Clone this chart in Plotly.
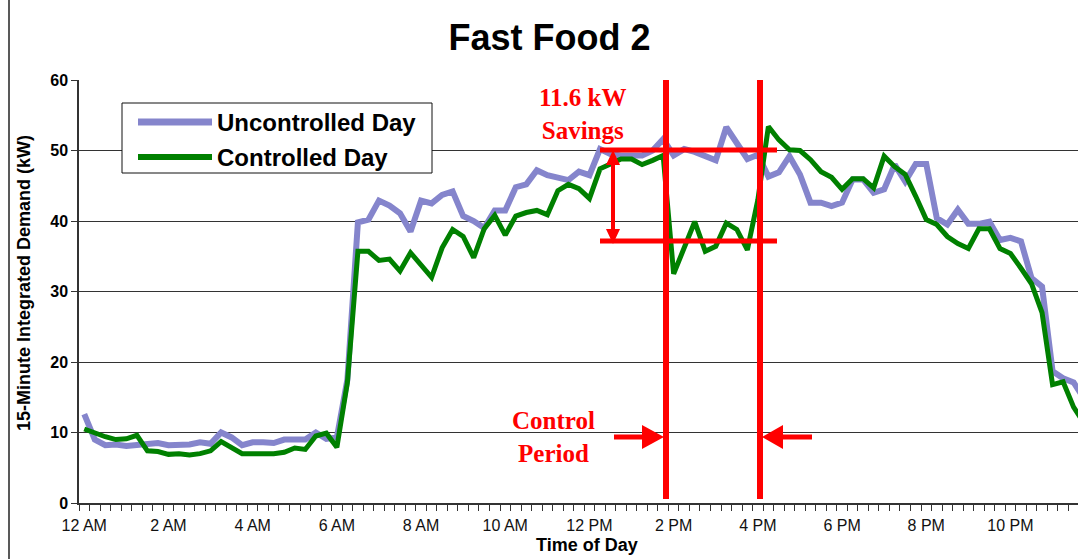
import plotly.graph_objects as go

# ---------------- data ----------------
n_periods = 96                      # 15-minute intervals in one day
hours = [i / 4 for i in range(n_periods)]

uncontrolled = [
    12.6, 9.0, 8.2, 8.3, 8.1, 8.2, 8.5, 8.5, 8.2, 8.2, 8.3, 8.6,
    8.4, 10.0, 9.3, 8.2, 8.6, 8.6, 8.5, 9.0, 9.1, 9.0, 10.0, 9.1,
    9.3, 17.5, 39.8, 40.2, 42.9, 42.2, 41.1, 38.5, 42.9, 42.5, 43.7, 44.2,
    40.7, 40.0, 39.0, 41.5, 41.5, 44.8, 45.2, 47.2, 46.5, 46.2, 45.8, 47.0,
    46.5, 50.2, 49.5, 49.3, 49.3, 49.3, 50.0, 51.6, 49.3, 50.2, 49.8, 49.1,
    48.6, 53.3, 51.0, 48.8, 49.4, 46.3, 46.9, 49.2, 46.6, 42.6, 42.6, 42.1,
    42.6, 45.9, 45.9, 44.0, 44.5, 48.0, 45.6, 48.1, 48.1, 40.4, 39.5, 41.6,
    39.6, 39.6, 39.9, 37.3, 37.6, 37.1, 31.9, 30.7, 18.7, 17.7, 17.1, 14.8,
]

controlled = [
    10.5, 9.9, 9.4, 9.0, 9.1, 9.6, 7.4, 7.3, 6.9, 7.0, 6.8, 7.0,
    7.4, 8.7, 7.9, 7.0, 7.0, 7.0, 7.0, 7.2, 7.8, 7.6, 9.5, 9.9,
    7.9, 17.1, 35.7, 35.7, 34.4, 34.6, 32.9, 35.5, 33.8, 32.0, 36.2, 38.8,
    37.8, 34.8, 38.9, 40.8, 38.0, 40.7, 41.2, 41.5, 40.9, 44.3, 45.2, 44.6,
    43.2, 47.4, 48.1, 48.8, 48.8, 48.0, 48.6, 49.3, 32.5, 36.4, 39.9, 35.7,
    36.4, 39.7, 38.8, 35.9, 43.0, 53.4, 51.5, 50.1, 50.0, 48.7, 47.0, 46.2,
    44.5, 46.0, 46.0, 44.7, 49.2, 47.7, 46.6, 43.5, 40.2, 39.5, 37.8, 36.8,
    36.1, 38.9, 38.9, 36.1, 35.4, 33.3, 31.1, 27.0, 16.8, 17.2, 13.6, 11.3,
]

tick_hours = [0, 2, 4, 6, 8, 10, 12, 14, 16, 18, 20, 22]
tick_labels = ["12 AM", "2 AM", "4 AM", "6 AM", "8 AM", "10 AM",
               "12 PM", "2 PM", "4 PM", "6 PM", "8 PM", "10 PM"]

series_names = ["Uncontrolled Day", "Controlled Day"]
savings_text = "11.6 kW<br>Savings"
control_text = "Control<br>Period"

# ---------------- layout geometry ----------------
W, H = 1078, 559
PL, PR, PT, PB = 79, 1078, 80, 503          # plot area in pixels
X0 = -0.125                                  # half category before 12 AM
PX_PER_HOUR = 42.1
X1 = X0 + (PR - PL) / PX_PER_HOUR
Y0, Y1 = 0, 60


def hx(px):   # pixel -> hour
    return X0 + (px - PL) / PX_PER_HOUR


def ky(py):   # pixel -> kW
    return Y0 + (PB - py) * (Y1 - Y0) / (PB - PT)


def ppx(px):  # pixel -> paper x
    return (px - PL) / (PR - PL)


def ppy(py):  # pixel -> paper y
    return (PB - py) / (PB - PT)


LAV = "#8585CC"
GRN = "#008000"
RED = "#FF0000"
SANS = "Arial, Liberation Sans, sans-serif"
SERIF = "Times New Roman, Liberation Serif, serif"

fig = go.Figure()
fig.add_trace(go.Scatter(x=hours, y=uncontrolled, mode="lines", name=series_names[0],
                         line=dict(color=LAV, width=6), showlegend=False))
fig.add_trace(go.Scatter(x=hours, y=controlled, mode="lines", name=series_names[1],
                         line=dict(color=GRN, width=5), showlegend=False))

shapes = []
# chart frame (left edge)
shapes.append(dict(type="line", xref="paper", yref="paper",
                   x0=ppx(9), x1=ppx(9), y0=ppy(0), y1=ppy(H),
                   line=dict(color="#222", width=1.5)))

# legend box
shapes.append(dict(type="rect", xref="paper", yref="paper",
                   x0=ppx(122), x1=ppx(432), y0=ppy(103), y1=ppy(173),
                   fillcolor="white", line=dict(color="#111", width=1)))
shapes.append(dict(type="line", xref="paper", yref="paper",
                   x0=ppx(138), x1=ppx(212), y0=ppy(122), y1=ppy(122),
                   line=dict(color=LAV, width=7)))
shapes.append(dict(type="line", xref="paper", yref="paper",
                   x0=ppx(138), x1=ppx(212), y0=ppy(157), y1=ppy(157),
                   line=dict(color=GRN, width=6)))

# control period vertical lines
for px in (666, 760):
    shapes.append(dict(type="line", x0=hx(px), x1=hx(px), y0=ky(80), y1=ky(499),
                       line=dict(color=RED, width=6)))
# savings horizontal lines
for py in (150, 241):
    shapes.append(dict(type="line", x0=hx(600), x1=hx(777), y0=ky(py), y1=ky(py),
                       line=dict(color=RED, width=5)))
# savings double arrow
shapes.append(dict(type="line", x0=hx(613), x1=hx(613), y0=ky(160), y1=ky(233),
                   line=dict(color=RED, width=4)))


def tri(p1, p2, p3):
    return "M {} {} L {} {} L {} {} Z".format(hx(p1[0]), ky(p1[1]), hx(p2[0]), ky(p2[1]),
                                            hx(p3[0]), ky(p3[1]))


shapes.append(dict(type="path", path=tri((613, 150), (606, 165), (620, 165)),
                   fillcolor=RED, line=dict(color=RED, width=0)))
shapes.append(dict(type="path", path=tri((613, 244), (606, 229), (620, 229)),
                   fillcolor=RED, line=dict(color=RED, width=0)))
# control period arrows
shapes.append(dict(type="line", x0=hx(614), x1=hx(645), y0=ky(437), y1=ky(437),
                   line=dict(color=RED, width=5)))
shapes.append(dict(type="path", path=tri((642, 425), (642, 449), (664, 437)),
                   fillcolor=RED, line=dict(color=RED, width=0)))
shapes.append(dict(type="line", x0=hx(780), x1=hx(812), y0=ky(437), y1=ky(437),
                   line=dict(color=RED, width=5)))
shapes.append(dict(type="path", path=tri((783, 425), (783, 449), (762, 437)),
                   fillcolor=RED, line=dict(color=RED, width=0)))

annotations = [
    # legend text
    dict(xref="paper", yref="paper", x=ppx(215), y=ppy(122), xanchor="left", yanchor="middle",
         text="<b>%s</b>" % series_names[0], showarrow=False,
         font=dict(family=SANS, size=24, color="#000")),
    dict(xref="paper", yref="paper", x=ppx(215), y=ppy(157), xanchor="left", yanchor="middle",
         text="<b>%s</b>" % series_names[1], showarrow=False,
         font=dict(family=SANS, size=24, color="#000")),
    # red labels
    dict(x=hx(583), y=ky(114), xanchor="center", yanchor="middle", showarrow=False,
         text="<b>%s</b>" % savings_text, align="center",
         font=dict(family=SERIF, size=25, color=RED)),
    dict(x=hx(553), y=ky(437), xanchor="center", yanchor="middle", showarrow=False,
         text="<b>%s</b>" % control_text, align="center",
         font=dict(family=SERIF, size=25, color=RED)),
    # axis titles
    dict(xref="paper", yref="paper", x=ppx(587), y=ppy(545), xanchor="center", yanchor="middle",
         text="<b>Time of Day</b>", showarrow=False,
         font=dict(family=SANS, size=18, color="#000")),
    dict(xref="paper", yref="paper", x=ppx(24), y=ppy(283), xanchor="center", yanchor="middle",
         text="<b>15-Minute Integrated Demand (kW)</b>", showarrow=False, textangle=-90,
         font=dict(family=SANS, size=18, color="#000")),
]

fig.update_layout(
    width=W, height=H, autosize=False,
    margin=dict(l=PL, r=W - PR, t=PT, b=H - PB, pad=0),
    paper_bgcolor="white", plot_bgcolor="white",
    title=dict(text="<b>Fast Food 2</b>", x=549.5 / W, xref="container", xanchor="center",
               y=1 - 37 / H, yref="container", yanchor="middle",
               font=dict(family=SANS, size=36, color="#000")),
    shapes=shapes, annotations=annotations,
    xaxis=dict(range=[X0, X1], tickmode="array", tickvals=tick_hours, ticktext=tick_labels,
               ticks="outside", ticklen=7, tickcolor="rgba(0,0,0,0)",
               showgrid=False, zeroline=False, showline=True, linecolor="#333", linewidth=1.5,
               tickfont=dict(family=SANS, size=16, color="#111"),
               minor=dict(tickmode="linear", tick0=X0, dtick=0.25, ticks="outside",
                          ticklen=6, tickcolor="#333", tickwidth=1, showgrid=False)),
    yaxis=dict(range=[Y0, Y1], tickmode="linear", tick0=0, dtick=10,
               ticks="outside", ticklen=6, tickcolor="#333", tickwidth=1,
               showgrid=True, gridcolor="#333", gridwidth=1, zeroline=False,
               showline=True, linecolor="#333", linewidth=1.5,
               tickfont=dict(family=SANS, size=16, color="#000", weight="bold")),
)

fig.write_html("out.html", config={"displayModeBar": False},
               post_script="document.body.style.margin='0';document.body.style.overflow='hidden';")
